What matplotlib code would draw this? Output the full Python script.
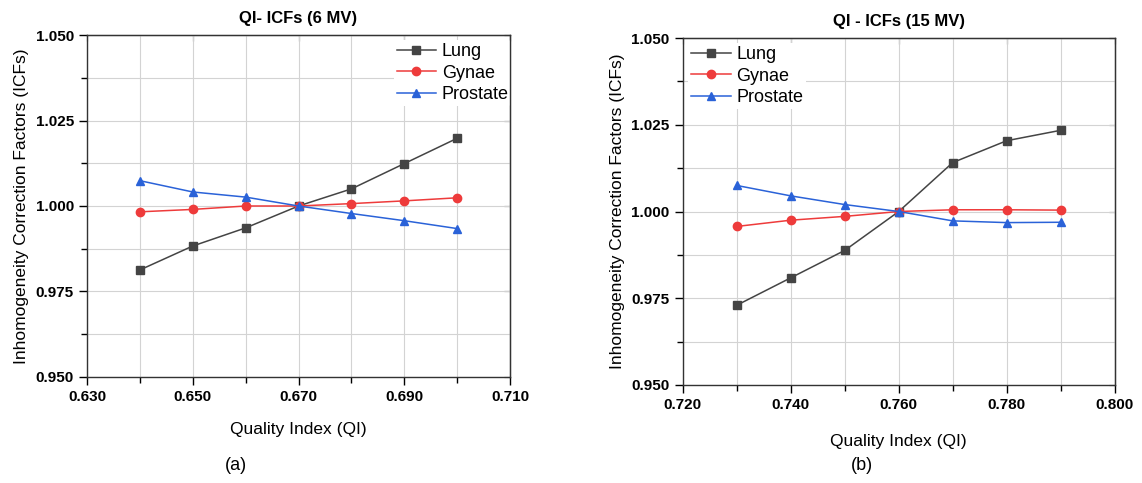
import matplotlib
matplotlib.use("Agg")
import matplotlib.pyplot as plt
from matplotlib.ticker import MultipleLocator, FormatStrFormatter, FixedLocator

plt.rcParams['font.family'] = ['Liberation Sans', 'DejaVu Sans']

# Data: 6 MV
qi_6 = [0.640, 0.650, 0.660, 0.670, 0.680, 0.690, 0.700]
lung_6 = [0.9813, 0.9883, 0.9936, 1.0000, 1.0050, 1.0124, 1.0198]
gynae_6 = [0.9983, 0.9990, 1.0000, 1.0000, 1.0007, 1.0015, 1.0024]
prostate_6 = [1.0074, 1.0041, 1.0026, 1.0000, 0.9978, 0.9957, 0.9934]

# Data: 15 MV
qi_15 = [0.730, 0.740, 0.750, 0.760, 0.770, 0.780, 0.790]
lung_15 = [0.9730, 0.9809, 0.9888, 1.0000, 1.0141, 1.0204, 1.0234]
gynae_15 = [0.9957, 0.9975, 0.9986, 1.0000, 1.0005, 1.0005, 1.0004]
prostate_15 = [1.0075, 1.0045, 1.0020, 1.0000, 0.9973, 0.9968, 0.9969]

xticks_6 = [0.630, 0.650, 0.670, 0.690, 0.710]
xticks_15 = [0.720, 0.740, 0.760, 0.780, 0.800]
yticks = [0.950, 0.975, 1.000, 1.025, 1.050]

series_names = ["Lung", "Gynae", "Prostate"]
colors = ["#444444", "#ee3b3b", "#2a62d8"]
markers = ["s", "o", "^"]

fig = plt.figure(figsize=(11.42, 4.83), dpi=100)
ax1 = fig.add_axes([0.0762, 0.2195, 0.3704, 0.708])
ax2 = fig.add_axes([0.598, 0.2029, 0.378, 0.7184])

def style(ax, xlim, xticks, title, legend_loc, anchor, xlabelpad):
    ax.set_xlim(*xlim)
    ax.set_ylim(0.950, 1.050)
    ax.xaxis.set_major_locator(FixedLocator(xticks))
    ax.xaxis.set_minor_locator(MultipleLocator(0.010))
    ax.yaxis.set_major_locator(FixedLocator(yticks))
    ax.yaxis.set_minor_locator(MultipleLocator(0.0125))
    ax.xaxis.set_major_formatter(FormatStrFormatter('%.3f'))
    ax.yaxis.set_major_formatter(FormatStrFormatter('%.3f'))
    ax.grid(True, which='both', color='#d3d3d3', linewidth=0.8)
    ax.set_axisbelow(True)
    ax.tick_params(which='both', direction='out', top=False, right=False, labelsize=11)
    ax.tick_params(which='major', length=6, width=1)
    ax.tick_params(which='minor', length=4, width=1)
    for lab in ax.get_xticklabels() + ax.get_yticklabels():
        lab.set_fontweight('bold')
    for sp in ax.spines.values():
        sp.set_linewidth(1.0)
        sp.set_color('#333333')
    secx = ax.secondary_xaxis('top')
    secx.xaxis.set_major_locator(FixedLocator(xticks))
    secx.xaxis.set_minor_locator(MultipleLocator(0.010))
    secx.tick_params(which='both', direction='in', labeltop=False, length=4)
    secy = ax.secondary_yaxis('right')
    secy.yaxis.set_major_locator(FixedLocator(yticks))
    secy.yaxis.set_minor_locator(MultipleLocator(0.0125))
    secy.tick_params(which='both', direction='in', labelright=False, length=4)
    ax.set_title(title, fontsize=12, fontweight='bold', pad=9)
    ax.set_xlabel("Quality Index (QI)", fontsize=12.5, labelpad=xlabelpad)
    ax.set_ylabel("Inhomogeneity Correction Factors (ICFs)", fontsize=12.5, labelpad=5)
    leg = ax.legend(loc=legend_loc, bbox_to_anchor=anchor, fontsize=13, frameon=True,
                    framealpha=1, edgecolor='none', handlelength=2.2, borderpad=0.15,
                    labelspacing=0.25, handletextpad=0.3, borderaxespad=0.3)
    leg.set_zorder(2.4)

for ax, x, ys in [(ax1, qi_6, [lung_6, gynae_6, prostate_6]),
                  (ax2, qi_15, [lung_15, gynae_15, prostate_15])]:
    for name, y, c, m in zip(series_names, ys, colors, markers):
        ax.plot(x, y, color=c, marker=m, markersize=6, linewidth=1.1, label=name)

style(ax1, (0.630, 0.710), xticks_6, "QI- ICFs (6 MV)", "upper right", (1.016, 1.0), 13)
style(ax2, (0.720, 0.800), xticks_15, "QI - ICFs (15 MV)", "upper left", (0.0, 1.0), 16)

fig.text(236 / 1142, 1 - 466 / 483, "(a)", fontsize=13, ha='center', va='center')
fig.text(862 / 1142, 1 - 465 / 483, "(b)", fontsize=13, ha='center', va='center')

fig.savefig("out.png", dpi=100, facecolor='white')
